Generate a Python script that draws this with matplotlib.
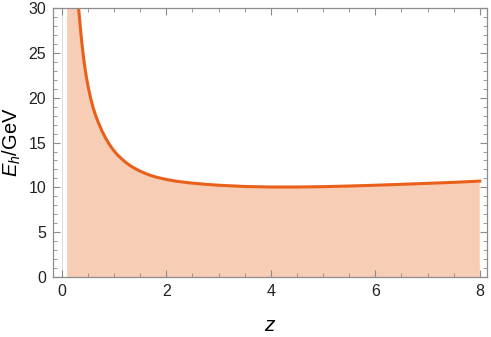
import matplotlib
matplotlib.use("Agg")
import matplotlib.pyplot as plt
from matplotlib.ticker import MultipleLocator

# values (points above 30 are off-chart, only fill shows)
z = [0.10, 0.15, 0.20, 0.25, 0.30, 0.32, 0.35, 0.38, 0.42, 0.46, 0.50, 0.55,
     0.60, 0.65, 0.70, 0.77, 0.85, 0.92, 0.98, 1.06, 1.15, 1.22, 1.30, 1.40,
     1.50, 1.60, 1.68, 1.80, 2.00, 2.20, 2.45, 2.75, 3.00, 3.50, 4.00, 4.50,
     5.00, 5.50, 6.00, 6.50, 7.00, 7.50, 8.00]
e_h = [90.0, 62.0, 47.0, 38.0, 31.4, 30.0, 28.0, 26.2, 24.2, 22.6, 21.3, 19.95,
       18.85, 17.95, 17.2, 16.25, 15.35, 14.7, 14.2, 13.65, 13.15, 12.8, 12.45,
       12.1, 11.8, 11.55, 11.37, 11.15, 10.88, 10.68, 10.5, 10.34, 10.24, 10.1,
       10.04, 10.04, 10.08, 10.15, 10.24, 10.34, 10.45, 10.56, 10.7]

plt.rcParams["font.family"] = ["Liberation Sans", "DejaVu Sans"]
plt.rcParams["mathtext.fontset"] = "custom"
plt.rcParams["mathtext.it"] = "Liberation Sans:italic"
plt.rcParams["mathtext.rm"] = "Liberation Sans"

fig = plt.figure(figsize=(4.91, 3.37), dpi=100)
ax = fig.add_axes([0.108, 0.178, 0.883, 0.798])

line_col = "#E9601A"
fill_col = "#F7CDB6"
frame_col = "#8C8C8C"

ax.axvline(0, color="#DCDCDC", linewidth=0.8, zorder=0)
ax.fill_between(z, 0, e_h, color=fill_col, linewidth=0, zorder=1)
ax.plot(z, e_h, color=line_col, linewidth=2.2, zorder=2)

ax.set_xlim(-0.17, 8.13)
ax.set_ylim(0, 30)
ax.xaxis.set_major_locator(MultipleLocator(2))
ax.xaxis.set_minor_locator(MultipleLocator(0.5))
ax.yaxis.set_major_locator(MultipleLocator(5))
ax.yaxis.set_minor_locator(MultipleLocator(1))

for s in ax.spines.values():
    s.set_color(frame_col)
    s.set_linewidth(0.9)
ax.tick_params(which="both", direction="in", top=True, right=True,
               color=frame_col, labelsize=11.5, labelcolor="#222222")
ax.tick_params(which="major", length=5, width=0.8, pad=5)
ax.tick_params(which="minor", length=2.8, width=0.6)

ax.set_xlabel(r"$z$", fontsize=15, labelpad=12)
ax.set_ylabel(r"$E_h/\mathrm{GeV}$", fontsize=14.5, labelpad=4)

fig.savefig("out.png", dpi=100)
